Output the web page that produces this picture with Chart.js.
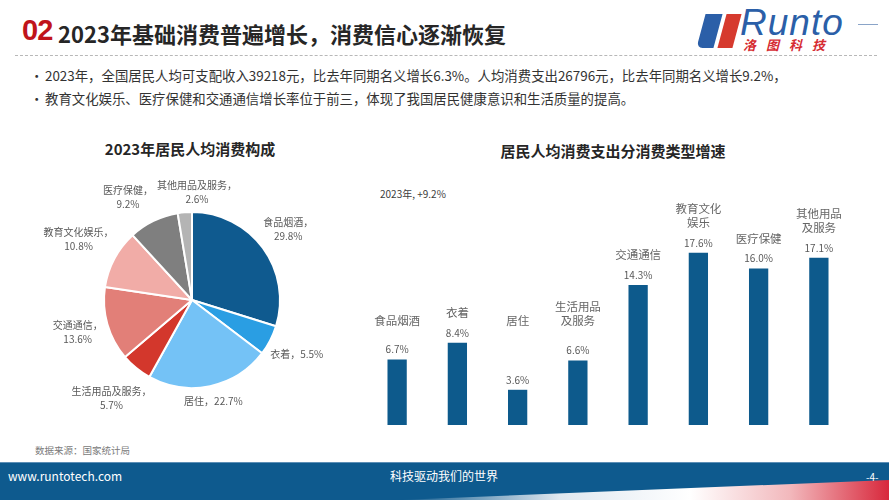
<!DOCTYPE html>
<html>
<head>
<meta charset="utf-8">
<script src="https://cdn.jsdelivr.net/npm/chart.js@4.4.1/dist/chart.umd.min.js"></script>
<style>
    body {
        margin: 0;
        width: 889px;
        height: 500px;
        position: relative;
        overflow: hidden;
        background: #fff;
        font-family: "Noto Sans CJK SC", "Noto Sans", sans-serif;
        color: #333;
    }
    .abs { position: absolute; white-space: nowrap; }
    #num { left: 22px; top: 14px; font: bold 29px "Liberation Sans", sans-serif; color: #c0141b; letter-spacing: -1px; }
    #title { left: 58px; top: 17px; font-size: 22px; font-weight: bold; color: #262626; }
    #dash { left: 15px; top: 55px; width: 862px; border-top: 1.5px dashed #b8b8b8; }
    #logoBlue { left: 701px; top: 14px; width: 17px; height: 34px; background: #2b5fa8; transform: skewX(-15deg); border-bottom-left-radius: 6px; }
    #logoRed { left: 722px; top: 14px; width: 15px; height: 34px; background: #d63a2e; transform: skewX(-15deg); }
    #runto { left: 740px; top: 2px; font: italic 37px "Liberation Sans", sans-serif; color: #2b5fa8; letter-spacing: 1px; }
    #runtoLine { left: 858px; top: 24px; width: 20px; border-top: 1px solid #8aa4c8; }
    #luotu { left: 743px; top: 35px; font-size: 13px; font-weight: bold; font-style: italic; color: #d62b32; letter-spacing: 10px; }
    .bullet { left: 30px; font-size: 13.4px; color: #333; }
    .bullet span { display: inline-block; width: 15px; }
    .ctitle { font-size: 15px; font-weight: bold; color: #262626; transform: translateX(-50%); }
    #overall { left: 380px; top: 186px; font-size: 10px; color: #404040; }
    #source { left: 35px; top: 443px; font-size: 9.5px; color: #7a7a7a; }
    #footer { left: 0; top: 462px; width: 889px; height: 38px; background: #0e5a8e; border-top: 1px solid #5d8fb6; }
    #swoosh { left: 0; top: 462px; width: 889px; height: 38px;
        clip-path: polygon(400px 38px, 889px 18px, 889px 38px);
        background: linear-gradient(90deg, rgba(255,255,255,0) 400px, #dfe8f0 560px, #ffffff 690px, #f2b8bc 790px, #d8283c 889px); }
    .foot { top: 467px; font-size: 12px; color: #fff; }
    canvas { position: absolute; }
</style>
</head>
<body>
<div class="abs" id="num">02</div>
<div class="abs" id="title">2023年基础消费普遍增长，消费信心逐渐恢复</div>
<div class="abs" id="logoBlue"></div>
<div class="abs" id="logoRed"></div>
<div class="abs" id="runto">Runto</div>
<div class="abs" id="runtoLine"></div>
<div class="abs" id="luotu">洛图科技</div>
<div class="abs" id="dash"></div>

<div class="abs bullet" style="top:65px"><span>•</span>2023年，全国居民人均可支配收入39218元，比去年同期名义增长6.3%。人均消费支出26796元，比去年同期名义增长9.2%，</div>
<div class="abs bullet" style="top:88px"><span>•</span>教育文化娱乐、医疗保健和交通通信增长率位于前三，体现了我国居民健康意识和生活质量的提高。</div>

<div class="abs ctitle" style="left:190px; top:138px">2023年居民人均消费构成</div>
<div class="abs ctitle" style="left:613px; top:140px">居民人均消费支出分消费类型增速</div>
<div class="abs" id="overall"></div>

<canvas id="pieChart" width="344" height="260" style="left:20px; top:170px"></canvas>
<canvas id="barChart" width="520" height="280" style="left:360px; top:160px"></canvas>

<div class="abs" id="source">数据来源：国家统计局</div>
<div class="abs" id="footer"></div>
<div class="abs" id="swoosh"></div>
<div class="abs foot" style="left:8px">www.runtotech.com</div>
<div class="abs foot" style="left:444px; transform:translateX(-50%)">科技驱动我们的世界</div>
<div class="abs foot" style="left:866px; font-size:10px; top:469px">-4-</div>

<script>
// 2023年居民人均消费构成 (%)
const shareCategories = ['食品烟酒', '衣着', '居住', '生活用品及服务', '交通通信', '教育文化娱乐', '医疗保健', '其他用品及服务'];
const shareValues = [29.8, 5.5, 22.7, 5.7, 13.6, 10.8, 9.2, 2.6];
const shareColors = ['#0f5a8f', '#2a9ee3', '#74c2f6', '#d3372c', '#e27f78', '#f1aca7', '#7f7f7f', '#b4b4b4'];

// 分消费类型增速 (%)
const growthCategories = ['食品烟酒', '衣着', '居住', '生活用品及服务', '交通通信', '教育文化娱乐', '医疗保健', '其他用品及服务'];
const growthRates = [6.7, 8.4, 3.6, 6.6, 14.3, 17.6, 16.0, 17.1];
const overallGrowth = 9.2;

const cjkFont = '"Noto Sans CJK SC", sans-serif';
const labelGray = '#595959';

document.getElementById('overall').innerText = `2023年, +${overallGrowth.toFixed(1)}%`;

function wrapName(name) {
    const lines = [];
    for (let i = 0; i < name.length; i += 4) {
        lines.push(name.slice(i, i + 4));
    }
    return lines;
}

const pieLabels = {
    id: 'pieLabels',
    afterDatasetsDraw(chart) {
        const ctx = chart.ctx;
        const meta = chart.getDatasetMeta(0);
        ctx.save();
        ctx.font = `10px ${cjkFont}`;
        ctx.fillStyle = labelGray;
        ctx.textAlign = 'center';
        ctx.textBaseline = 'middle';

        const boxes = meta.data.map((arc, i) => {
            const name = shareCategories[i];
            const value = shareValues[i].toFixed(1) + '%';
            const lines = name.length <= 2 ? [`${name}，${value}`] : [`${name}，`, value];
            const width = Math.max(...lines.map(l => ctx.measureText(l).width));
            const halfH = lines.length * 7;
            const mid = (arc.startAngle + arc.endAngle) / 2;
            const cos = Math.cos(mid), sin = Math.sin(mid);
            const dist = arc.outerRadius + 3 + Math.abs(cos) * width / 2 + Math.abs(sin) * halfH;
            return { lines, width, halfH, x: arc.x + cos * dist, y: arc.y + sin * dist };
        });

        // push neighbouring labels apart sideways when they collide
        for (let i = 0; i < boxes.length; i++) {
            const a = boxes[i], b = boxes[(i + 1) % boxes.length];
            const ox = (a.width + b.width) / 2 + 4 - Math.abs(a.x - b.x);
            const oy = a.halfH + b.halfH - Math.abs(a.y - b.y);
            if (ox > 0 && oy > 0) {
                const dir = b.x >= a.x ? 1 : -1;
                a.x -= dir * ox / 2;
                b.x += dir * ox / 2;
            }
        }

        boxes.forEach(box => {
            box.lines.forEach((line, k) => {
                ctx.fillText(line, box.x, box.y + (k - (box.lines.length - 1) / 2) * 14);
            });
        });
        ctx.restore();
    }
};

new Chart(document.getElementById('pieChart').getContext('2d'), {
    type: 'pie',
    data: {
        labels: shareCategories,
        datasets: [{
            data: shareValues,
            backgroundColor: shareColors,
            borderColor: '#ffffff',
            borderWidth: 2,
            hoverOffset: 0
        }]
    },
    options: {
        responsive: false,
        animation: false,
        layout: { padding: 41 },
        plugins: {
            legend: { display: false },
            tooltip: { enabled: false }
        }
    },
    plugins: [pieLabels]
});

const nameFloorValue = 10.7;

const barLabels = {
    id: 'barLabels',
    afterDatasetsDraw(chart) {
        const ctx = chart.ctx;
        const meta = chart.getDatasetMeta(0);
        const floorY = chart.scales.y.getPixelForValue(nameFloorValue);
        ctx.save();
        ctx.textAlign = 'center';
        ctx.textBaseline = 'middle';
        meta.data.forEach((bar, i) => {
            const valueY = bar.y - 10;
            ctx.font = `10px ${cjkFont}`;
            ctx.fillStyle = labelGray;
            ctx.fillText(growthRates[i].toFixed(1) + '%', bar.x, valueY);

            const lines = wrapName(growthCategories[i]);
            const lastY = Math.min(valueY - 20, floorY);
            ctx.font = `11.5px ${cjkFont}`;
            ctx.fillStyle = '#666666';
            lines.forEach((line, k) => {
                ctx.fillText(line, bar.x, lastY - (lines.length - 1 - k) * 14);
            });
        });
        ctx.restore();
    }
};

new Chart(document.getElementById('barChart').getContext('2d'), {
    type: 'bar',
    data: {
        labels: growthCategories,
        datasets: [{
            data: growthRates,
            backgroundColor: '#0d5a8c',
            barPercentage: 0.32,
            categoryPercentage: 1
        }]
    },
    options: {
        responsive: false,
        animation: false,
        layout: { padding: { left: 7, right: 31, top: 40, bottom: 15 } },
        scales: {
            x: { display: false },
            y: { display: false, min: 0, max: 23 }
        },
        plugins: {
            legend: { display: false },
            tooltip: { enabled: false }
        }
    },
    plugins: [barLabels]
});
</script>
</body>
</html>
